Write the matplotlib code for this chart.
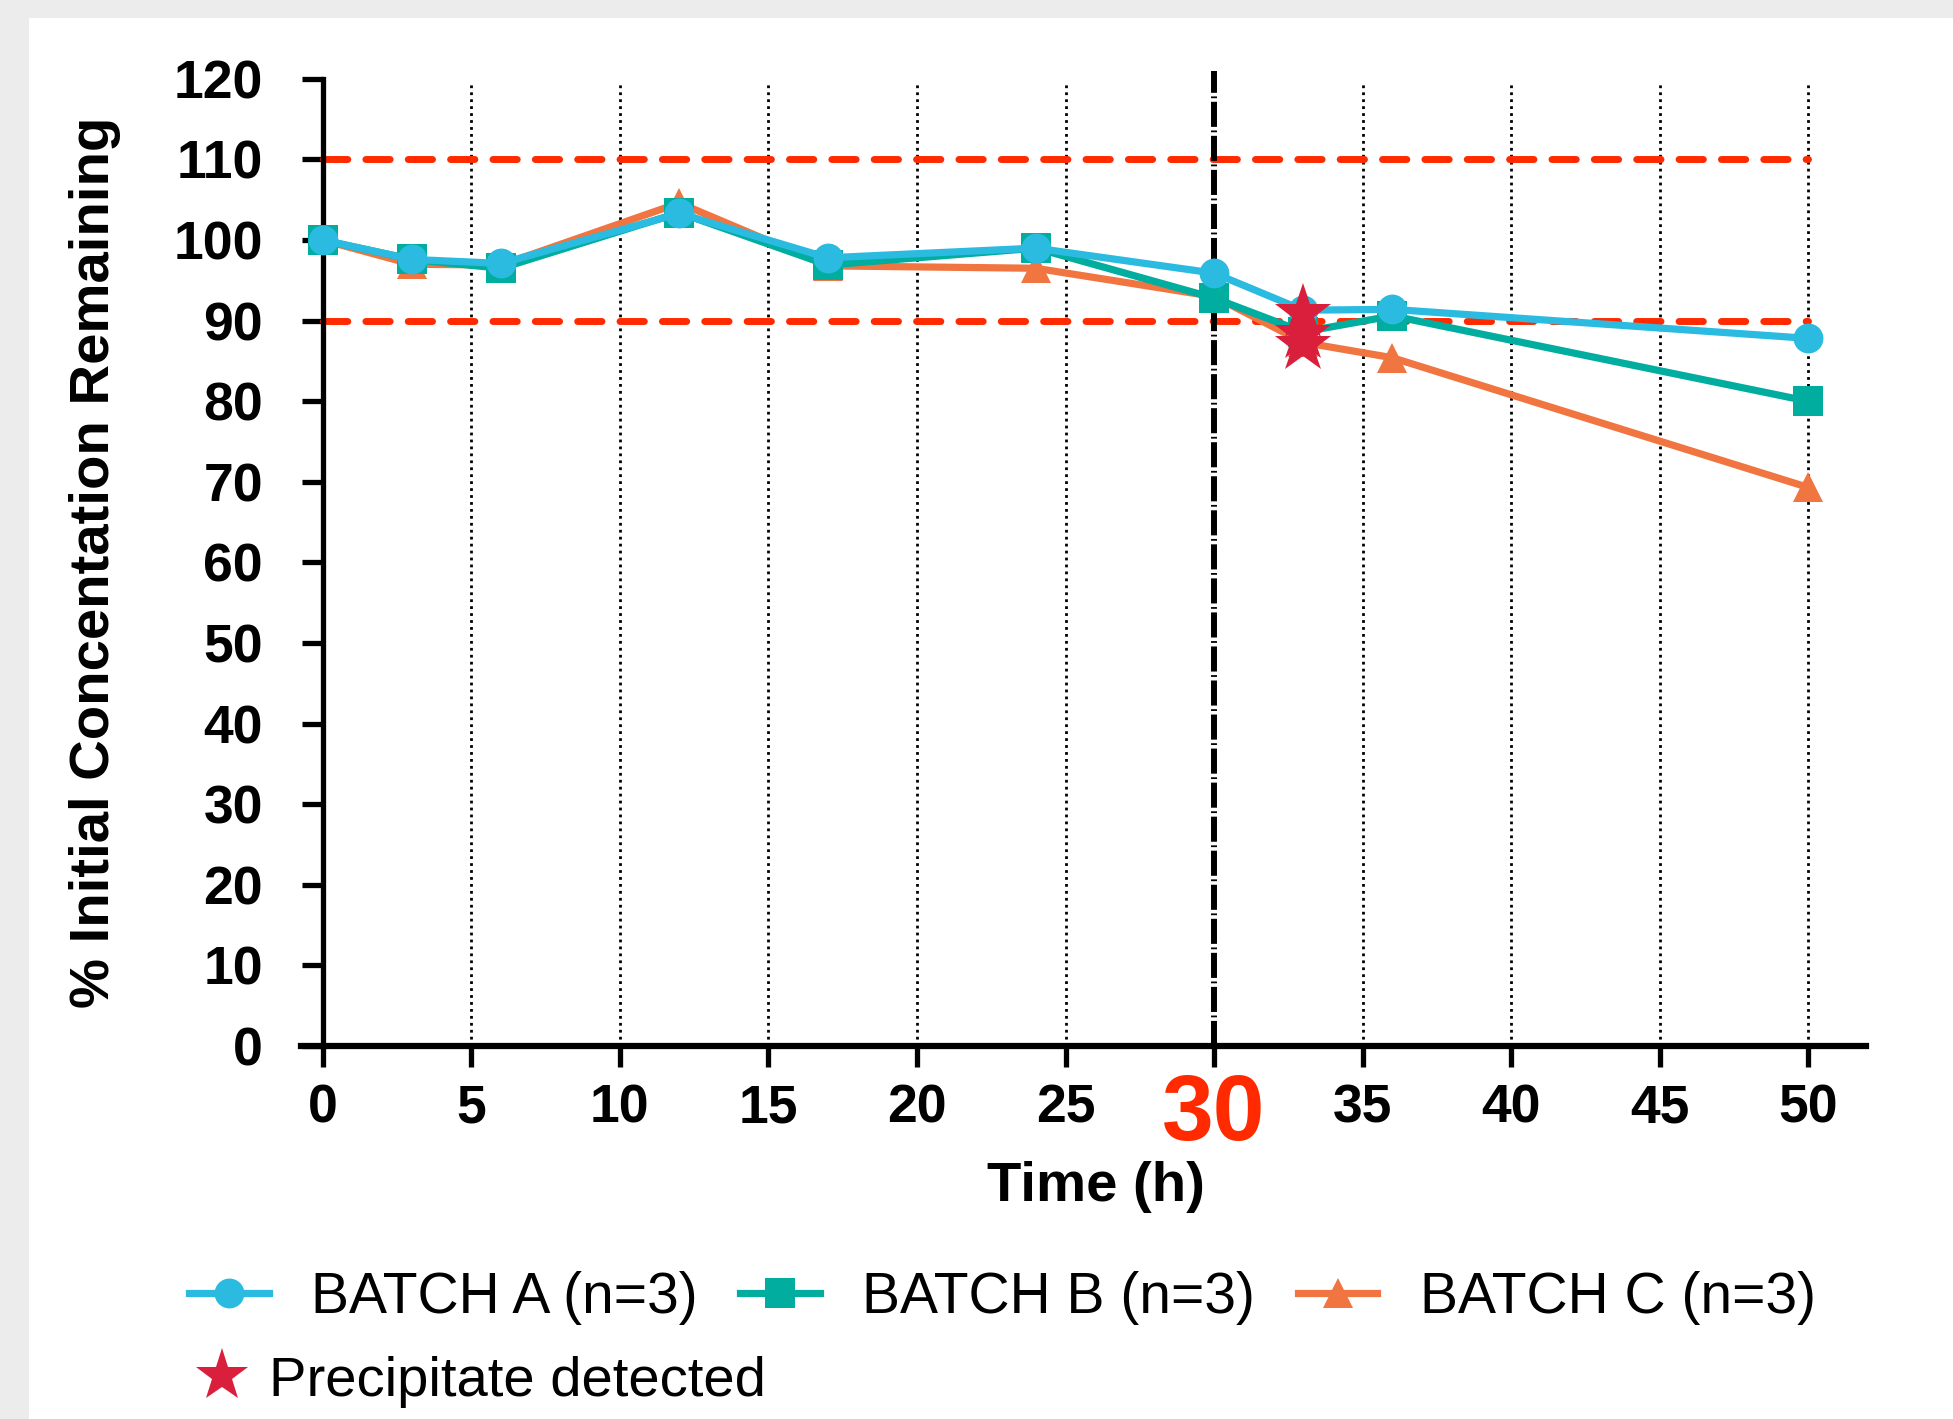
import matplotlib
matplotlib.use("Agg")
import matplotlib.pyplot as plt
from matplotlib.patches import Rectangle
from matplotlib.lines import Line2D

plt.rcParams["font.family"] = ["Liberation Sans", "DejaVu Sans"]

# --- data ---
time_h = [0, 3, 6, 12, 17, 24, 30, 33, 36, 50]
batch_a = [100, 97.6, 97.1, 103.3, 97.8, 99.0, 95.9, 91.3, 91.4, 87.8]
batch_b = [100, 97.6, 96.5, 103.4, 96.9, 99.0, 92.8, 88.6, 90.6, 80.0]
batch_c = [100, 97.0, 96.9, 104.6, 96.8, 96.5, 93.0, 87.3, 85.4, 69.3]

precip_time = [33, 33, 33]
precip_vals = [90.9, 88.4, 87.0]

spec_limits = [90, 110]
cutoff_time = 30
grid_times = [5, 10, 15, 20, 25, 35, 40, 45, 50]
x_ticks = [0, 5, 10, 15, 20, 25, 30, 35, 40, 45, 50]
y_ticks = [0, 10, 20, 30, 40, 50, 60, 70, 80, 90, 100, 110, 120]

BLUE = "#2bbbe0"
TEAL = "#00ad9f"
ORANGE = "#f07540"
RED = "#ff2a00"
STAR = "#d91f3c"

fig = plt.figure(figsize=(19.53, 14.19), dpi=100, facecolor="#ececec")
fig.add_artist(Rectangle((29 / 1953, 0), 1 - 29 / 1953, 1 - 18 / 1419,
                         transform=fig.transFigure, facecolor="white",
                         edgecolor="none", zorder=-10))

ax = fig.add_axes([0.1543, 0.2629, 0.8010, 0.6815])
ax.patch.set_visible(False)
ax.set_xlim(-0.72, 51.93)
ax.set_ylim(0, 120)

# spines
ax.spines["top"].set_visible(False)
ax.spines["right"].set_visible(False)
ax.spines["left"].set_position(("data", 0))
ax.spines["left"].set_bounds(0, 120)
ax.spines["left"].set_linewidth(3.8)
ax.spines["bottom"].set_linewidth(4.5)

# reference lines
for t in grid_times:
    ax.plot([t, t], [0, 119.5], color="black", lw=2, ls=(0, (1, 1.5)), zorder=1)
for lim in spec_limits:
    ax.plot([0, 50], [lim, lim], color=RED, lw=5, ls=(0, (3.5, 2.6)),
            dash_capstyle="round", zorder=2)
ax.plot([cutoff_time, cutoff_time], [0, 121], color="black", lw=4.3,
        ls=(0, (4.2, 0.6, 0.3, 0.6)), dash_capstyle="butt",
        clip_on=False, zorder=3)

# data
lc, = ax.plot(time_h, batch_c, color=ORANGE, lw=5.2, marker="^", ms=21.5,
              mew=0, zorder=5, label="BATCH C (n=3)")
lb, = ax.plot(time_h, batch_b, color=TEAL, lw=5.2, marker="s", ms=21.5,
              mew=0, zorder=6, label="BATCH B (n=3)")
la, = ax.plot(time_h, batch_a, color=BLUE, lw=5.2, marker="o", ms=21.5,
              mew=0, zorder=7, label="BATCH A (n=3)")
ax.plot(precip_time, precip_vals, ls="none", marker="*", ms=43, mew=0,
        color=STAR, zorder=8)

# ticks
ax.set_xticks(x_ticks)
ax.set_xticklabels(["" if t == cutoff_time else str(t) for t in x_ticks])
ax.set_yticks(y_ticks)
ax.set_yticklabels([str(v) for v in y_ticks])
ax.tick_params(axis="y", direction="out", length=15, width=3.8, pad=28,
               labelsize=38.5)
ax.tick_params(axis="x", direction="out", length=15, width=3.8, pad=12,
               labelsize=38.5)
for lbl in ax.get_xticklabels() + ax.get_yticklabels():
    lbl.set_fontweight("bold")
ax.text(cutoff_time, -0.028, str(cutoff_time), transform=ax.get_xaxis_transform(),
        ha="center", va="top", fontsize=67, fontweight="bold", color=RED)

ax.set_xlabel("Time (h)", fontsize=40.5, fontweight="bold")
ax.xaxis.set_label_coords(0.508, -0.119)
ax.set_ylabel("% Initial Concentation Remaining", fontsize=40.5, fontweight="bold")
ax.yaxis.set_label_coords(-0.1154, 0.5)

# legends
fig.legend(handles=[la, lb, lc], loc="center left",
           bbox_to_anchor=(0.0968, 0.0855), ncol=3, frameon=False,
           fontsize=41, handlelength=1.4, handletextpad=0.74,
           columnspacing=0.75, borderpad=0, borderaxespad=0)
star_handle = Line2D([], [], ls="none", marker="*", ms=40, mew=0, color=STAR)
fig.legend(handles=[star_handle], labels=["Precipitate detected"],
           loc="center left", bbox_to_anchor=(0.1007, 0.0262), frameon=False,
           fontsize=40.5, handlelength=0.9, handletextpad=0.38,
           borderpad=0, borderaxespad=0)

fig.savefig("out.png", dpi=100)
print("saved out.png")
